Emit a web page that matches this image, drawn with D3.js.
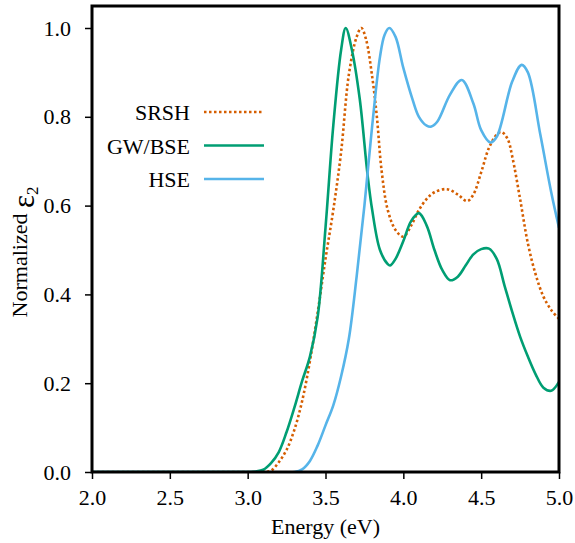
<!DOCTYPE html>
<html><head><meta charset="utf-8"><script src="https://cdn.jsdelivr.net/npm/d3@7"></script></head>
<body style="margin:0">
<svg id="chart" width="575" height="543" font-family="Liberation Serif"></svg>
<script>
// ---- data ----
const seriesNames = ["SRSH", "GW/BSE", "HSE"];
const seriesColors = ["#d55e00", "#009e73", "#56b4e9"];

const srshE = [2.0, 2.5, 3.0, 3.1, 3.15, 3.2, 3.25, 3.3, 3.35, 3.4, 3.45, 3.5, 3.55, 3.6, 3.65, 3.7, 3.73, 3.76, 3.8, 3.83, 3.86, 3.9, 3.95, 4.0, 4.05, 4.1, 4.15, 4.2, 4.28, 4.35, 4.41, 4.45, 4.5, 4.55, 4.6, 4.63, 4.67, 4.7, 4.75, 4.8, 4.85, 4.9, 4.95, 5.0];
const srshV = [0, 0, 0, 0, 0.003, 0.022, 0.05, 0.095, 0.16, 0.25, 0.36, 0.48, 0.59, 0.72, 0.895, 0.98, 1.0, 0.975, 0.89, 0.80, 0.68, 0.59, 0.545, 0.53, 0.555, 0.59, 0.615, 0.63, 0.637, 0.625, 0.61, 0.625, 0.675, 0.73, 0.76, 0.766, 0.75, 0.71, 0.615, 0.515, 0.445, 0.395, 0.365, 0.345];

const gwE = [2.0, 2.5, 3.0, 3.05, 3.1, 3.15, 3.2, 3.25, 3.3, 3.35, 3.4, 3.45, 3.5, 3.55, 3.6, 3.63, 3.67, 3.72, 3.77, 3.8, 3.85, 3.9, 3.915, 3.95, 4.0, 4.05, 4.1, 4.15, 4.2, 4.25, 4.3, 4.35, 4.4, 4.45, 4.5, 4.55, 4.6, 4.65, 4.7, 4.75, 4.8, 4.85, 4.9, 4.95, 5.0];
const gwV = [0, 0, 0, 0.001, 0.005, 0.02, 0.045, 0.09, 0.145, 0.205, 0.26, 0.35, 0.55, 0.78, 0.95, 1.0, 0.95, 0.84, 0.67, 0.59, 0.50, 0.468, 0.465, 0.48, 0.52, 0.565, 0.583, 0.555, 0.50, 0.455, 0.432, 0.44, 0.465, 0.49, 0.502, 0.503, 0.48, 0.42, 0.36, 0.305, 0.26, 0.22, 0.19, 0.183, 0.203];

const hseE = [2.0, 2.5, 3.0, 3.3, 3.35, 3.4, 3.45, 3.5, 3.55, 3.6, 3.65, 3.7, 3.75, 3.8, 3.85, 3.88, 3.91, 3.95, 4.0, 4.06, 4.1, 4.15, 4.18, 4.22, 4.3, 4.375, 4.45, 4.5, 4.56, 4.6, 4.7, 4.76, 4.8, 4.88, 4.95, 5.0];
const hseV = [0, 0, 0, 0, 0.006, 0.025, 0.06, 0.105, 0.15, 0.215, 0.30, 0.44, 0.60, 0.78, 0.935, 0.985, 1.0, 0.98, 0.91, 0.838, 0.80, 0.78, 0.778, 0.79, 0.85, 0.883, 0.83, 0.77, 0.742, 0.755, 0.88, 0.917, 0.90, 0.76, 0.63, 0.55];

const xTicks = [2.0, 2.5, 3.0, 3.5, 4.0, 4.5, 5.0];
const yTicks = [0.0, 0.2, 0.4, 0.6, 0.8, 1.0];

const FONT = "Liberation Serif";

// ---- layout ----
const svg = d3.select("#chart");
const L = 92, R = 559, T = 6, B = 472;
const x = d3.scaleLinear().domain([2, 5]).range([L, R]);
const y = d3.scaleLinear().domain([0, 1.0]).range([B, 28]);

function txt(sel) {
  return sel.attr("font-family", FONT).style("font-family", FONT);
}

// axis labels (texts first)
txt(svg.append("text")).attr("x", (L + R) / 2).attr("y", 534).attr("text-anchor", "middle")
  .attr("font-size", 22).attr("fill", "#000").text("Energy (eV)");

const yl = txt(svg.append("text")).attr("transform", "translate(27,252) rotate(-90)")
  .attr("text-anchor", "middle").attr("font-size", 22).attr("fill", "#000");
txt(yl.append("tspan")).text("Normalized ");
txt(yl.append("tspan")).text("ε").attr("font-size", 31).attr("dy", 7);
txt(yl.append("tspan")).text("2").attr("font-size", 17).attr("dy", 4);

// legend
const legY = [112, 145.5, 179];
seriesNames.forEach((n, i) => {
  txt(svg.append("text")).attr("x", 190).attr("y", legY[i] + 8).attr("text-anchor", "end")
    .attr("font-size", 22).attr("fill", "#000").text(n);
});

// axes
const xAxis = d3.axisBottom(x).tickValues(xTicks).tickFormat(d3.format(".1f")).tickSize(7).tickPadding(10);
const yAxis = d3.axisLeft(y).tickValues(yTicks).tickFormat(d3.format(".1f")).tickSize(7).tickPadding(14);
const gx = svg.append("g").attr("transform", `translate(0,${B})`).call(xAxis);
const gy = svg.append("g").attr("transform", `translate(${L},0)`).call(yAxis);
[gx, gy].forEach(a => {
  a.attr("font-family", FONT).attr("font-size", 22);
  a.select(".domain").remove();
  a.selectAll(".tick line").attr("stroke", "#000").attr("stroke-width", 1.5);
  txt(a.selectAll(".tick text")).attr("font-size", 22).attr("fill", "#000");
});

// curves
svg.append("defs").append("clipPath").attr("id", "clip")
  .append("rect").attr("x", L).attr("y", T).attr("width", R - L).attr("height", B - T);

const series = [
  { E: srshE, V: srshV, dash: "2.5,2.5" },
  { E: gwE, V: gwV, dash: null },
  { E: hseE, V: hseV, dash: null }
];

const line = d3.line().x(d => x(d[0])).y(d => y(d[1])).curve(d3.curveCatmullRom.alpha(0.5));
const g = svg.append("g").attr("clip-path", "url(#clip)");
series.forEach((s, i) => {
  const pts = s.E.map((e, j) => [e, s.V[j]]);
  g.append("path").datum(pts)
    .attr("d", line)
    .attr("fill", "none")
    .attr("stroke", seriesColors[i])
    .attr("stroke-width", 2.6)
    .attr("stroke-dasharray", s.dash);
});

// legend lines
seriesNames.forEach((n, i) => {
  svg.append("line").attr("x1", 204).attr("x2", 264).attr("y1", legY[i]).attr("y2", legY[i])
    .attr("stroke", seriesColors[i]).attr("stroke-width", 2.6)
    .attr("stroke-dasharray", series[i].dash);
});

// frame
svg.append("rect").attr("x", L).attr("y", T).attr("width", R - L).attr("height", B - T)
  .attr("fill", "none").attr("stroke", "#000").attr("stroke-width", 3);
</script></body></html>
